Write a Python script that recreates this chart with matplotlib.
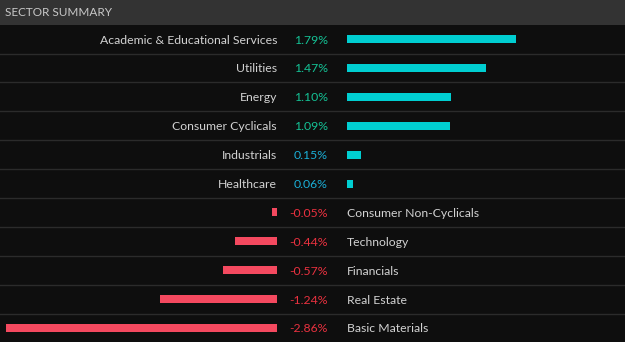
import numpy as np
import matplotlib.pyplot as plt

sectors = ["Academic & Educational Services", "Utilities", "Energy", "Consumer Cyclicals",
           "Industrials", "Healthcare", "Consumer Non-Cyclicals", "Technology",
           "Financials", "Real Estate", "Basic Materials"]
changes = [1.79, 1.47, 1.10, 1.09, 0.15, 0.06, -0.05, -0.44, -0.57, -1.24, -2.86]

W, H = 625, 342
bg = "#0e0e0e"
head_bg = "#333333"
pos_bar = "#00ced1"
neg_bar = "#f4495f"
neg_txt = "#e8313f"
lbl = "#d2d2d2"
scale = 94.6  # px per percent

plt.rcParams['font.family'] = ['Lato', 'DejaVu Sans']
fig = plt.figure(figsize=(W / 100, H / 100), dpi=100)
fig.patch.set_facecolor(bg)

# main axes in pixel coordinates
ax = fig.add_axes([0, 0, 1, 1])
ax.set_xlim(0, W)
ax.set_ylim(H, 0)
ax.axis("off")
ax.add_patch(plt.Rectangle((0, 0), W, 25, color=head_bg, lw=0))
ax.text(5, 13, "SECTOR SUMMARY", color="#c8c8c8", fontsize=8.5, va="center", ha="left")

n = len(sectors)
rows = 39 + 28.9 * np.arange(n)
for y in rows[:-1] + 14.5:
    ax.plot([0, W], [y, y], color="#2b2b2b", lw=1)

vals = np.array(changes)
# negative bars, zero at x=277
axn = fig.add_axes([0, 0, 277 / W, 1])
axn.set_xlim(-277 / scale, 0)
axn.set_ylim(H, 0)
axn.axis("off")
axn.patch.set_alpha(0)
neg = vals < 0
axn.barh(rows[neg], vals[neg], height=8, color=neg_bar)

# positive bars, zero at x=347
axp = fig.add_axes([347 / W, 0, (W - 347) / W, 1])
axp.set_xlim(0, (W - 347) / scale)
axp.set_ylim(H, 0)
axp.axis("off")
axp.patch.set_alpha(0)
axp.barh(rows[~neg], vals[~neg], height=8, color=pos_bar)

fs = 8.8
for name, v, y in zip(sectors, changes, rows):
    ty = y + 1
    if v >= 0:
        col = "#14c295" if v >= 0.5 else "#1aaed6"
        ax.text(277, ty, name, color=lbl, fontsize=fs, ha="right", va="center")
    else:
        col = neg_txt
        ax.text(347, ty, name, color=lbl, fontsize=fs, ha="left", va="center")
    ax.text(328, ty, f"{v:.2f}%", color=col, fontsize=fs, ha="right", va="center")

fig.savefig("out.png", dpi=100, facecolor=bg)
